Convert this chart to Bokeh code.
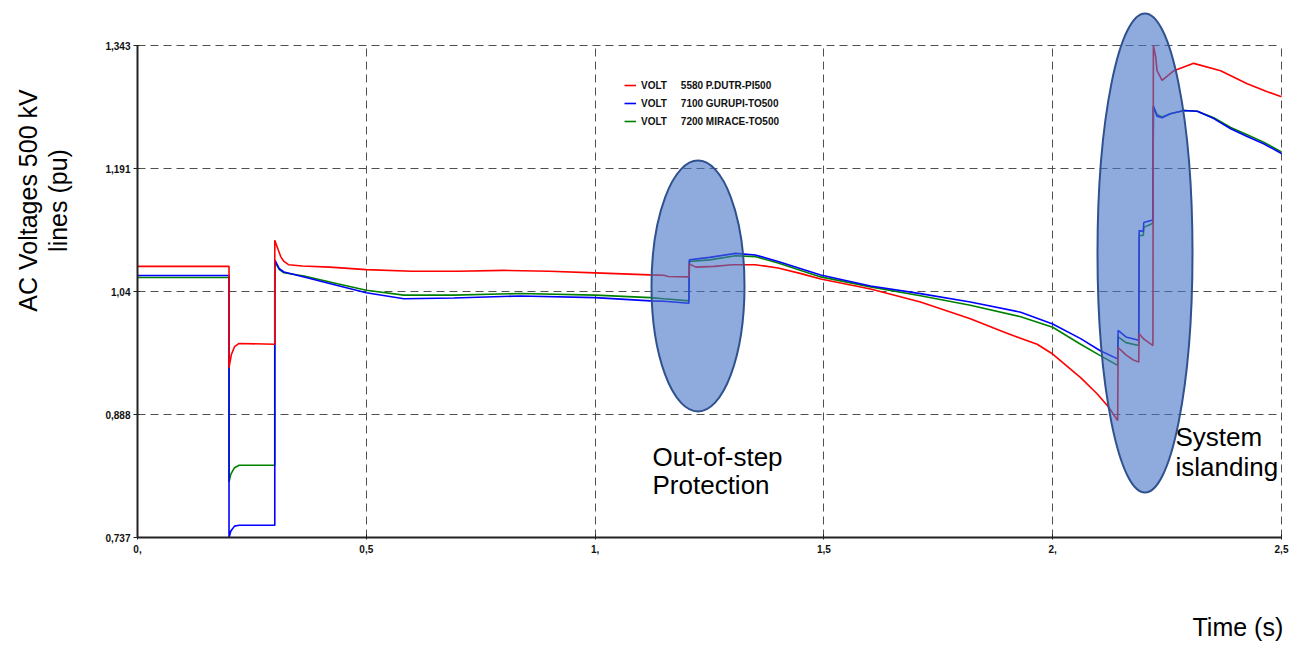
from math import pi
from bokeh.plotting import figure
from bokeh.models import Range1d, FixedTicker, Legend, LegendItem, Label
from bokeh.embed import file_html
from bokeh.resources import INLINE

# ---------------- data (time in s, voltage in pu) ----------------
t_red = [0.000, 0.200, 0.200, 0.205, 0.212, 0.222, 0.300, 0.300, 0.307, 0.313,
         0.320, 0.330, 0.360, 0.420, 0.500, 0.600, 0.700, 0.800, 0.900, 1.000,
         1.120, 1.150, 1.160, 1.205, 1.206, 1.220, 1.260, 1.300, 1.350, 1.400,
         1.450, 1.493, 1.602, 1.711, 1.820, 1.893, 1.966, 2.000, 2.061, 2.097,
         2.123, 2.142, 2.143, 2.160, 2.175, 2.188, 2.189, 2.198, 2.210, 2.219,
         2.220, 2.225, 2.228, 2.239, 2.265, 2.308, 2.367, 2.425, 2.469, 2.500]
v_red = [1.071, 1.071, 0.946, 0.962, 0.972, 0.976, 0.975, 1.103, 1.092, 1.083,
         1.077, 1.073, 1.0715, 1.070, 1.067, 1.065, 1.065, 1.066, 1.065, 1.063,
         1.0605, 1.060, 1.0585, 1.058, 1.074, 1.070, 1.071, 1.073, 1.073, 1.069,
         1.062, 1.0555, 1.043, 1.027, 1.0065, 0.990, 0.975, 0.963, 0.934, 0.914,
         0.897, 0.881, 0.971, 0.962, 0.956, 0.953, 0.988, 0.982, 0.977, 0.9735,
         1.343, 1.329, 1.312, 1.300, 1.312, 1.321, 1.312, 1.296, 1.286, 1.280]

t_blue = [0.000, 0.200, 0.200, 0.204, 0.212, 0.222, 0.300, 0.300, 0.310, 0.320,
          0.364, 0.437, 0.500, 0.582, 0.691, 0.837, 1.000, 1.121, 1.150, 1.205,
          1.206, 1.250, 1.307, 1.350, 1.400, 1.493, 1.602, 1.711, 1.820, 1.930,
          2.000, 2.061, 2.104, 2.142, 2.143, 2.160, 2.188, 2.189, 2.198, 2.199,
          2.219, 2.220, 2.228, 2.239, 2.257, 2.287, 2.316, 2.352, 2.389, 2.425,
          2.461, 2.500]
v_blue = [1.0597, 1.0597, 0.737, 0.745, 0.751, 0.752, 0.752, 1.079, 1.068, 1.064,
          1.0578, 1.0475, 1.0385, 1.031, 1.032, 1.0345, 1.0325, 1.0285, 1.028, 1.0255,
          1.079, 1.082, 1.087, 1.085, 1.077, 1.0603, 1.0468, 1.0374, 1.027, 1.0145,
          1.000, 0.982, 0.967, 0.957, 0.992, 0.984, 0.980, 1.115, 1.114, 1.125,
          1.128, 1.268, 1.256, 1.254, 1.259, 1.263, 1.262, 1.253, 1.2405, 1.231,
          1.222, 1.210]

t_green = [0.000, 0.200, 0.200, 0.204, 0.212, 0.222, 0.300, 0.300, 0.310, 0.320,
           0.364, 0.437, 0.500, 0.582, 0.691, 0.837, 1.000, 1.121, 1.150, 1.205,
           1.206, 1.250, 1.307, 1.350, 1.400, 1.493, 1.602, 1.711, 1.820, 1.930,
           2.000, 2.061, 2.104, 2.142, 2.143, 2.160, 2.188, 2.189, 2.198, 2.199,
           2.219, 2.220, 2.228, 2.239, 2.257, 2.287, 2.316, 2.352, 2.389, 2.425,
           2.461, 2.500]
v_green = [1.0573, 1.0573, 0.8055, 0.815, 0.823, 0.826, 0.826, 1.0768, 1.067, 1.063,
           1.059, 1.0495, 1.0415, 1.0355, 1.0355, 1.0375, 1.0355, 1.0325, 1.031, 1.0285,
           1.077, 1.079, 1.084, 1.083, 1.075, 1.058, 1.0457, 1.0348, 1.023, 1.009,
           0.996, 0.975, 0.961, 0.949, 0.984, 0.977, 0.9735, 1.109, 1.109, 1.119,
           1.124, 1.268, 1.258, 1.255, 1.259, 1.263, 1.262, 1.254, 1.242, 1.233,
           1.224, 1.212]

series_labels = [
    "VOLT\u00a0\u00a0\u00a0\u00a0\u00a05580 P.DUTR-PI500",
    "VOLT\u00a0\u00a0\u00a0\u00a0\u00a07100 GURUPI-TO500",
    "VOLT\u00a0\u00a0\u00a0\u00a0\u00a07200 MIRACE-TO500",
]

x_ticks = [0, 0.5, 1.0, 1.5, 2.0, 2.5]
x_tick_labels = ["0,", "0,5", "1,", "1,5", "2,", "2,5"]
y_ticks = [0.737, 0.888, 1.04, 1.191, 1.343]
y_tick_labels = ["0,737", "0,888", "1,04", "1,191", "1,343"]

# ---------------- layout helpers (canvas pixels) ----------------
W, H = 1290, 645
X0_PX = 137            # canvas x of t = 0
YTOP_PX, YBOT_PX = 45, 537   # canvas y of the top / bottom y tick
PX_PER_S = 457.6
PX_PER_PU = (YBOT_PX - YTOP_PX) / (y_ticks[-1] - y_ticks[0])
TEXT_SHIFT = 11        # label baseline correction (px)


def tx(px):
    return x_ticks[0] + (px - X0_PX) / PX_PER_S


def vy(py):
    return y_ticks[-1] - (py - YTOP_PX) / PX_PER_PU


FONT = "Liberation Sans"

p = figure(width=W, height=H, output_backend="svg", toolbar_location=None,
           title=None,
           x_range=Range1d(tx(0), tx(W)),
           y_range=Range1d(vy(H), vy(0)),
           min_border_left=0, min_border_right=0, min_border_top=0,
           min_border_bottom=0)
p.outline_line_color = None
p.background_fill_color = "white"
p.border_fill_color = "white"

# axes (drawn at t=0 and v=0.737 inside the full-canvas frame)
p.xaxis.fixed_location = y_ticks[0]
p.yaxis.fixed_location = x_ticks[0]
p.xaxis.ticker = FixedTicker(ticks=x_ticks)
p.xaxis.major_label_overrides = dict(zip(x_ticks, x_tick_labels))
p.yaxis.ticker = FixedTicker(ticks=y_ticks)
p.yaxis.major_label_overrides = dict(zip(y_ticks, y_tick_labels))
p.xaxis.bounds = (x_ticks[0], x_ticks[-1])
p.yaxis.bounds = (y_ticks[0], y_ticks[-1])
for ax in (p.xaxis, p.yaxis):
    ax.axis_line_color = "#222222"
    ax.axis_line_width = 2
    ax.major_tick_line_color = "#222222"
    ax.minor_tick_line_color = None
    ax.major_label_text_font = FONT
    ax.major_label_text_font_style = "bold"
    ax.major_label_text_font_size = "10px"
    ax.major_label_text_color = "#111111"
p.yaxis.major_tick_out = 4
p.yaxis.major_tick_in = 2
p.yaxis.major_label_standoff = 3
p.xaxis.major_tick_out = 2
p.xaxis.major_tick_in = 3
p.xaxis.major_label_standoff = 5

# grid (limited to the data box)
p.xgrid.grid_line_color = "#505050"
p.xgrid.grid_line_dash = "8 5"
p.xgrid.bounds = (x_ticks[0], x_ticks[-1])
p.xgrid.cross_bounds = (y_ticks[0], y_ticks[-1])
p.ygrid.grid_line_color = "#505050"
p.ygrid.grid_line_dash = "8 5"
p.ygrid.bounds = (y_ticks[0], y_ticks[-1])
p.ygrid.cross_bounds = (x_ticks[0], x_ticks[-1])

# series
r_green = p.line(t_green, v_green, line_color="#008000", line_width=1.6)
r_blue = p.line(t_blue, v_blue, line_color="#0000FF", line_width=1.6)
r_red = p.line(t_red, v_red, line_color="#FF0000", line_width=1.6)

legend = Legend(items=[LegendItem(label=series_labels[0], renderers=[r_red]),
                       LegendItem(label=series_labels[1], renderers=[r_blue]),
                       LegendItem(label=series_labels[2], renderers=[r_green])],
                location=(624, H - 128),
                label_text_font=FONT, label_text_font_style="bold",
                label_text_font_size="10px", label_text_color="#111111",
                glyph_width=12, glyph_height=14, label_height=14, spacing=4,
                label_standoff=5, padding=0, margin=0,
                border_line_color=None, background_fill_alpha=0)
p.add_layout(legend)

# highlight ellipses (annotations)
p.ellipse(x=[tx(697.5), tx(1144.5)], y=[vy(285.5), vy(252.5)],
          width=[93 / PX_PER_S, 95 / PX_PER_S],
          height=[251 / PX_PER_PU, 479 / PX_PER_PU],
          fill_color="#4472C4", fill_alpha=0.6,
          line_color="#2F528F", line_width=2)


# text annotations
def add_text(x, y, text, size, angle=0, align="left"):
    p.add_layout(Label(x=x, y=y, text=text, angle=angle, text_align=align,
                       text_baseline="alphabetic", text_font=FONT,
                       text_font_size=size, text_color="#000000"))


add_text(tx(652), vy(467 - TEXT_SHIFT), "Out-of-step", "26px")
add_text(tx(652), vy(495 - TEXT_SHIFT), "Protection", "26px")
add_text(tx(1175), vy(447 - TEXT_SHIFT), "System", "26px")
add_text(tx(1175), vy(477 - TEXT_SHIFT), "islanding", "26px")
add_text(tx(1192), vy(637 - TEXT_SHIFT), "Time (s)", "25px")
add_text(tx(37 - TEXT_SHIFT + 1), vy(200), "AC Voltages 500 kV", "25px",
         angle=pi / 2, align="center")
add_text(tx(67 - TEXT_SHIFT + 1), vy(200), "lines (pu)", "25px",
         angle=pi / 2, align="center")

open("out.html", "w").write(file_html(p, INLINE))
